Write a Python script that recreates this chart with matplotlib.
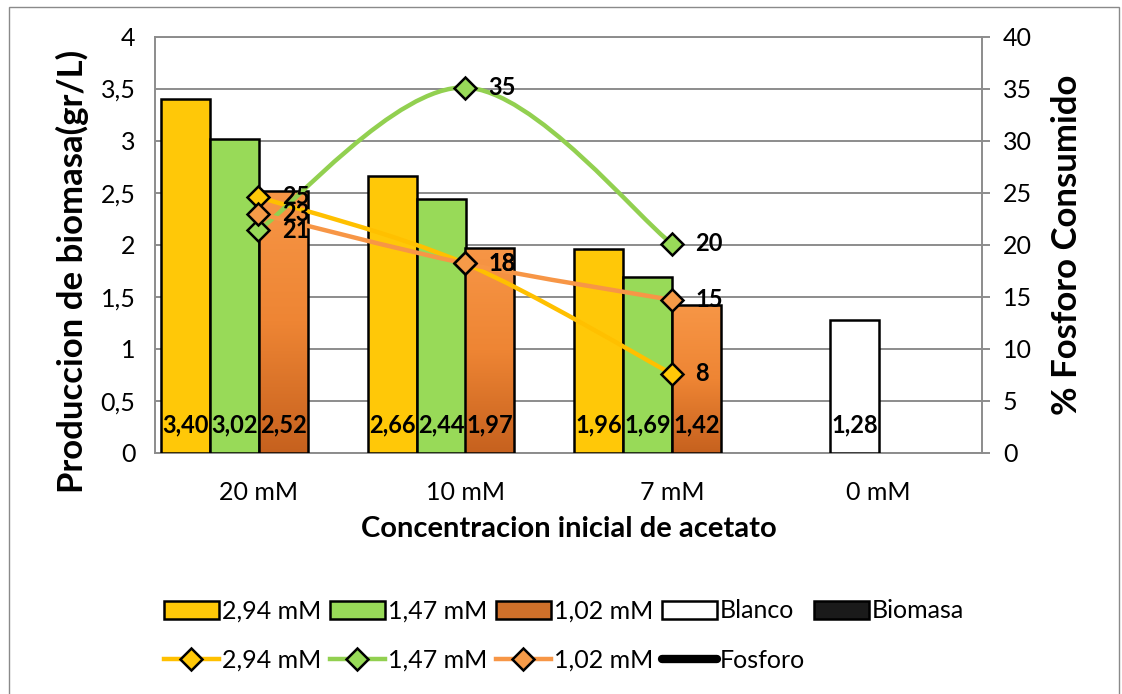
import matplotlib
matplotlib.use('Agg')
import matplotlib.pyplot as plt
import numpy as np
from matplotlib.path import Path
from matplotlib.patches import PathPatch, Rectangle, Patch
from matplotlib.lines import Line2D
from matplotlib.colors import LinearSegmentedColormap

plt.rcParams['font.family'] = ['Lato', 'DejaVu Sans']

# ---- data -------------------------------------------------------------
categories = ['20 mM', '10 mM', '7 mM', '0 mM']
series_names = ['2,94 mM', '1,47 mM', '1,02 mM']
biomasa_294 = [3.40, 2.66, 1.96]
biomasa_147 = [3.02, 2.44, 1.69]
biomasa_102 = [2.52, 1.97, 1.42]
biomasa_blanco = [1.28]
fosforo_294 = [24.6, 18.2, 7.6]
fosforo_147 = [21.4, 35.1, 20.1]
fosforo_102 = [23.0, 18.2, 14.7]
left_ticks = [0, 0.5, 1, 1.5, 2, 2.5, 3, 3.5, 4]
left_tick_labels = ['0', '0,5', '1', '1,5', '2', '2,5', '3', '3,5', '4']
right_ticks = [0, 5, 10, 15, 20, 25, 30, 35, 40]

YELLOW = '#FFC808'
GREEN = '#98DA58'
ORANGE = '#F08A3A'
LINE_YELLOW = '#FFC000'
LINE_GREEN = '#92D050'
LINE_ORANGE = '#F79646'
GRID = '#8C8C8C'


def comma(v, nd=2):
    return f"{v:.{nd}f}".replace('.', ',')


def smooth_path(xs, ys):
    """Cubic Bezier path through the points (Catmull-Rom style smoothing)."""
    P = np.column_stack([xs, ys]).astype(float)
    n = len(P)
    verts = [P[0]]
    codes = [Path.MOVETO]
    for i in range(n - 1):
        p_prev = P[i - 1] if i > 0 else P[i]
        p_next = P[i + 2] if i + 2 < n else P[i + 1]
        c1 = P[i] + (P[i + 1] - p_prev) / 6.0
        c2 = P[i + 1] - (p_next - P[i]) / 6.0
        verts += [c1, c2, P[i + 1]]
        codes += [Path.CURVE4] * 3
    return Path(verts, codes)


W, H = 1122, 694
fig = plt.figure(figsize=(W / 100, H / 100), dpi=100)

# outer frame of the chart
fig.patches.append(Rectangle((9 / W, -0.01), 1110 / W, 1 - 7 / H + 0.01,
                             transform=fig.transFigure, fill=False,
                             edgecolor='#8A8A8A', lw=1.0))

ax = fig.add_axes([155 / W, 1 - 453 / H, 827 / W, 416.5 / H])
ax2 = ax.twinx()

x = np.arange(3)
bw = 0.237
offsets = [-0.3535, -0.1165, 0.12]
edge_kw = dict(edgecolor='black', linewidth=1.8)

ax.bar(x + offsets[0], biomasa_294, bw, color=YELLOW, zorder=3, **edge_kw)
ax.bar(x + offsets[1], biomasa_147, bw, color=GREEN, zorder=3, **edge_kw)
orange_bars = ax.bar(x + offsets[2], biomasa_102, bw, color=ORANGE, zorder=3,
                     linewidth=0)
ax.bar([3 + offsets[1]], biomasa_blanco, bw, color='white', zorder=3, **edge_kw)

# shaded fill of the orange bars
cmap_or = LinearSegmentedColormap.from_list('or', ['#C6611E', '#EE8534', '#F79646'])
grad = np.linspace(0, 1, 256).reshape(-1, 1)
for b in orange_bars:
    x0, h = b.get_x(), b.get_height()
    im = ax.imshow(grad, extent=[x0, x0 + bw, 0, h], origin='lower',
                   aspect='auto', cmap=cmap_or, zorder=3.1)
    im.set_clip_path(b)
ax.bar(x + offsets[2], biomasa_102, bw, facecolor='none', zorder=3.2, **edge_kw)

# value labels at the foot of each bar
for off, vals in zip(offsets, [biomasa_294, biomasa_147, biomasa_102]):
    for xi, v in zip(x, vals):
        ax.annotate(comma(v), (xi + off, 0), xytext=(0, 20), textcoords='offset points',
                    ha='center', va='center', fontsize=17, fontweight='bold', zorder=6)
ax.annotate(comma(biomasa_blanco[0]), (3 + offsets[1], 0), xytext=(0, 20),
            textcoords='offset points', ha='center', va='center',
            fontsize=17, fontweight='bold', zorder=6)

ax.set_xlim(-0.5, 3.5)
ax.set_ylim(0, 4)
ax.set_yticks(left_ticks)
ax.set_yticklabels(left_tick_labels)
ax.set_xticks(np.arange(4))
ax.set_xticklabels(categories)
ax.tick_params(axis='y', length=0, pad=14, labelsize=18)
ax.tick_params(axis='x', length=0, pad=20, labelsize=18)
ax.grid(axis='y', color=GRID, linewidth=1.4, zorder=0)
ax.set_axisbelow(True)
for s in ['left', 'top', 'bottom']:
    ax.spines[s].set_color(GRID)
    ax.spines[s].set_linewidth(1.4)
ax.spines['right'].set_visible(False)

# phosphorus series on the secondary axis
line_series = [(fosforo_294, LINE_YELLOW, YELLOW),
               (fosforo_147, LINE_GREEN, GREEN),
               (fosforo_102, LINE_ORANGE, '#F59A48')]
for vals, lc, mc in line_series:
    ax2.add_patch(PathPatch(smooth_path(x, vals), facecolor='none', edgecolor=lc,
                            linewidth=3.2, capstyle='round', zorder=4))
for vals, lc, mc in line_series:
    ax2.plot(x, vals, ls='none', marker='D', ms=11, mfc=mc, mec='black',
             mew=1.8, zorder=5)
    for xi, v in zip(x, vals):
        ax2.annotate(f"{v:.0f}", (xi, v), xytext=(17, 0), textcoords='offset points',
                     ha='left', va='center', fontsize=17, fontweight='bold', zorder=6)

ax2.set_ylim(0, 40)
ax2.set_yticks(right_ticks)
ax2.tick_params(axis='y', length=6, width=1.4, color=GRID, pad=9, labelsize=18)
for s in ['left', 'top', 'bottom']:
    ax2.spines[s].set_visible(False)
ax2.spines['right'].set_color(GRID)
ax2.spines['right'].set_linewidth(1.4)

ax.set_xlabel('Concentracion inicial de acetato', fontsize=21, fontweight='bold')
ax.xaxis.set_label_coords(0.5, -0.152)
ax.set_ylabel('Produccion de biomasa(gr/L)', fontsize=25, fontweight='bold')
ax.yaxis.set_label_coords(-0.080, 0.437)
ax2.set_ylabel('% Fosforo Consumido', fontsize=25, fontweight='bold')
ax2.yaxis.set_label_coords(1.084, 0.5)

# legend: bar series on the first row, phosphorus lines on the second
def bar_h(c):
    return Patch(facecolor=c, edgecolor='black', linewidth=1.8)


def line_h(lc, mc):
    return Line2D([], [], color=lc, lw=3.2, marker='D', ms=11, mfc=mc,
                  mec='black', mew=1.8)


handles = [bar_h(YELLOW), line_h(LINE_YELLOW, YELLOW),
           bar_h(GREEN), line_h(LINE_GREEN, GREEN),
           bar_h('#D0702A'), line_h(LINE_ORANGE, '#F59A48'),
           bar_h('white'), Line2D([], [], color='black', lw=6, solid_capstyle='round'),
           bar_h('#1A1A1A')]
labels = ['2,94 mM', '2,94 mM', '1,47 mM', '1,47 mM', '1,02 mM', '1,02 mM',
          'Blanco', 'Fosforo', 'Biomasa']
fig.legend(handles, labels, ncol=5, loc='upper left',
           bbox_to_anchor=(151 / W, 1 - 587 / H), frameon=False, fontsize=18,
           handlelength=2.2, handleheight=0.75, handletextpad=0.12,
           columnspacing=0.35, labelspacing=1.05, borderpad=0.0)

fig.savefig('out.png', dpi=100, facecolor='white')
